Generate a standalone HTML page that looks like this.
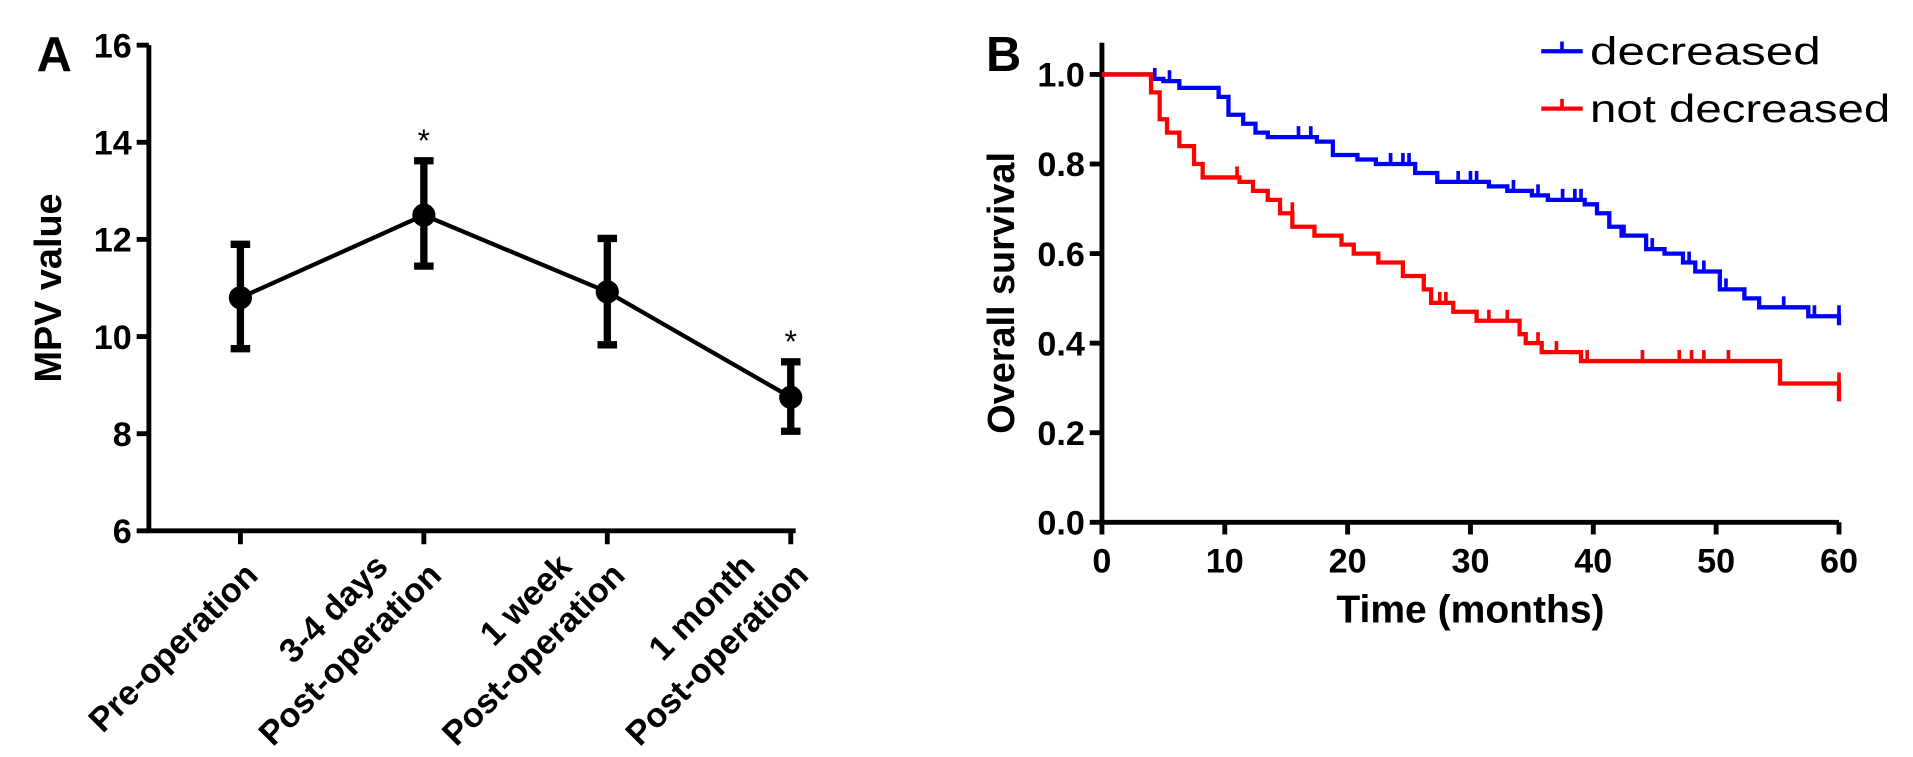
<!DOCTYPE html>
<html><head><meta charset="utf-8"><style>
html,body{margin:0;padding:0;background:#fff;}
svg{display:block;font-family:"Liberation Sans",Arial,sans-serif;}
</style></head><body>
<svg id="fig" width="1913" height="757" viewBox="0 0 1913 757" xmlns="http://www.w3.org/2000/svg">
<rect width="1913" height="757" fill="#fff"/>
<g transform="scale(1.2203)">
<g id="panelA"></g>
<g id="panelB"></g>
</g>
</svg>
<script>
// Panel A data
const aCategories = [["Pre-operation"],["3-4 days","Post-operation"],["1 week","Post-operation"],["1 month","Post-operation"]];
const aMeans = [10.8, 12.5, 10.92, 8.75];
const aLow = [9.75, 11.45, 9.83, 8.05];
const aHigh = [11.9, 13.62, 12.02, 9.48];
const aStar = [false, true, false, true];
const aYTicks = [6, 8, 10, 12, 14, 16];

// Panel B data
const bXTicks = [0, 10, 20, 30, 40, 50, 60];
const bYTicks = [0.0, 0.2, 0.4, 0.6, 0.8, 1.0];
const blueTimes = [0, 4, 5, 6.3, 9.5, 10.3, 11.5, 12.5, 13.5, 17.5, 18.8, 20.8, 22.3, 25.5, 27.3, 31.5, 33, 35, 36.3, 39.3, 40.3, 41.3, 42.3, 44.3, 45.8, 47.3, 48.3, 50.3, 52.3, 53.5, 57.5, 60];
const blueSurv = [1.0, 0.99, 0.985, 0.97, 0.95, 0.91, 0.89, 0.87, 0.86, 0.85, 0.82, 0.81, 0.80, 0.78, 0.76, 0.75, 0.74, 0.73, 0.72, 0.71, 0.69, 0.66, 0.64, 0.61, 0.60, 0.58, 0.56, 0.52, 0.50, 0.48, 0.46, 0.44];
const blueCensor = [4.3, 5.5, 16, 17, 23.5, 24.5, 25, 29, 30, 30.5, 33.5, 35.5, 37.5, 38.5, 39, 42.5, 44.8, 47.8, 49, 50.8, 55.5, 58, 60];
const redTimes = [0, 4, 4.7, 5.3, 6.3, 7.5, 8.2, 9.2, 11.2, 12.3, 13.5, 14.5, 15.5, 17.3, 19.5, 20.5, 22.5, 24.5, 26.2, 26.8, 28.6, 30.5, 34, 34.5, 35.8, 39, 55.2, 60];
const redSurv = [1.0, 0.96, 0.90, 0.87, 0.84, 0.80, 0.77, 0.77, 0.76, 0.74, 0.72, 0.69, 0.66, 0.64, 0.62, 0.60, 0.58, 0.55, 0.52, 0.49, 0.47, 0.45, 0.42, 0.40, 0.38, 0.36, 0.31, 0.27];
const redCensor = [11, 15.5, 27.5, 28, 31.5, 33, 35.5, 37, 39.5, 44, 47, 48, 49, 51, 60];

const NS = "http://www.w3.org/2000/svg";
function mk(parent, tag, attrs, text) {
  const e = document.createElementNS(NS, tag);
  for (const k in attrs) e.setAttribute(k, attrs[k]);
  if (text !== undefined) e.textContent = text;
  parent.appendChild(e);
  return e;
}

// ---------- Panel A ----------
const A = document.getElementById("panelA");
const axL = 122, axB = 435, axT = 37;
const ya = v => axB - (v - 6) / (16 - 6) * (axB - axT);
const xaFirst = 197, xaLast = 648;
const xa = i => xaFirst + i * (xaLast - xaFirst) / 3;

let t = mk(A, "text", {x: 30, y: 58, "font-size": 40, "font-weight": "bold"}, "A");



let ax = mk(A, "path", {d: `M${axL},${axT} V${axB} H${xa(3)+4}`, stroke: "#000", "stroke-width": 4, fill: "none"});



aYTicks.forEach(v => {
  const y = ya(v);
  const tk = mk(A, "line", {x1: axL - 10, x2: axL, y1: y, y2: y, stroke: "#000", "stroke-width": 4});
  
  
  const lb = mk(A, "text", {x: axL - 14, y: y + 10, "font-size": 28, "font-weight": "bold", "text-anchor": "end"}, v);
  
  
});

let yt = mk(A, "text", {x: 0, y: 0, "font-size": 31, "font-weight": "bold", "text-anchor": "middle", transform: `translate(50,236) rotate(-90)`}, "MPV value");



aCategories.forEach((lines, i) => {
  const x = xa(i);
  const tk = mk(A, "line", {x1: x, x2: x, y1: axB, y2: axB + 11, stroke: "#000", "stroke-width": 4});
  
  
  const g = mk(A, "text", {"font-size": 28, "font-weight": "bold", "text-anchor": "end", transform: `translate(${x+6},${axB + 28}) rotate(-45)`});
  
  
  const n = lines.length;
  lines.forEach((s, j) => {
    const dy = (j - (n - 1)) * 36 + 14;
    mk(g, "tspan", {x: (j === n - 1 ? 0 : -26), y: dy}, s);
  });
});

let pts = aMeans.map((m, i) => `${xa(i)},${ya(m)}`).join(" ");
let pl = mk(A, "polyline", {points: pts, fill: "none", stroke: "#000", "stroke-width": 3.5});


aMeans.forEach((m, i) => {
  const x = xa(i);
  const eb = mk(A, "path", {d: `M${x},${ya(aLow[i])} V${ya(aHigh[i])} M${x-8},${ya(aLow[i])} H${x+8} M${x-8},${ya(aHigh[i])} H${x+8}`, stroke: "#000", "stroke-width": 6, fill: "none"});
  
  
  const c = mk(A, "circle", {cx: x, cy: ya(m), r: 9.5, fill: "#000"});
  
  
  if (aStar[i]) {
    const s = mk(A, "text", {x: x, y: ya(aHigh[i]) - 8, "font-size": 26, "text-anchor": "middle"}, "*");
    
    
  }
});

// ---------- Panel B ----------
const B = document.getElementById("panelB");
const bL = 903, bR = 1507, bT = 61, bB = 428;
const xb = v => bL + v / 60 * (bR - bL);
const yb = v => bB - v * (bB - bT);

t = mk(B, "text", {x: 808, y: 58, "font-size": 40, "font-weight": "bold"}, "B");



ax = mk(B, "path", {d: `M${bL},${bT - 26} V${bB} H${bR}`, stroke: "#000", "stroke-width": 4, fill: "none"});



bYTicks.forEach(v => {
  const y = yb(v);
  const tk = mk(B, "line", {x1: bL - 10, x2: bL, y1: y, y2: y, stroke: "#000", "stroke-width": 4});
  
  
  const lb = mk(B, "text", {x: bL - 14, y: y + 10, "font-size": 28, "font-weight": "bold", "text-anchor": "end"}, v.toFixed(1));
  
  
});
bXTicks.forEach(v => {
  const x = xb(v);
  const tk = mk(B, "line", {x1: x, x2: x, y1: bB, y2: bB + 10, stroke: "#000", "stroke-width": 4});
  
  
  const lb = mk(B, "text", {x: x, y: bB + 41, "font-size": 28, "font-weight": "bold", "text-anchor": "middle"}, v);
  
  
});
let xtB = mk(B, "text", {x: 1205, y: 510, "font-size": 32, "font-weight": "bold", "text-anchor": "middle"}, "Time (months)");


let ytB = mk(B, "text", {"font-size": 31, "font-weight": "bold", "text-anchor": "middle", transform: "translate(831,240) rotate(-90)"}, "Overall survival");



function survAt(times, surv, tt) {
  let s = surv[0];
  for (let i = 0; i < times.length; i++) if (times[i] <= tt) s = surv[i];
  return s;
}
function drawKM(times, surv, censor, color, name) {
  let d = `M${xb(times[0])},${yb(surv[0])}`;
  for (let i = 1; i < times.length; i++) {
    d += ` H${xb(times[i])} V${yb(surv[i])}`;
  }
  const p = mk(B, "path", {d: d, fill: "none", stroke: color, "stroke-width": 3.5});
  
  
  censor.forEach(c => {
    const y = yb(survAt(times, surv, c - 0.01));
    const l = mk(B, "line", {x1: xb(c), x2: xb(c), y1: y, y2: y - 9, stroke: color, "stroke-width": 3});
    
    
  });
}
drawKM(blueTimes, blueSurv, blueCensor, "#0000ff", "decreased");
drawKM(redTimes, redSurv, redCensor, "#ff0000", "not-decreased");

// legend
[["decreased", "#0000ff", 42, 189], ["not decreased", "#ff0000", 89, 246]].forEach(([lab, col, y, w]) => {
  const g = mk(B, "g", {});
  
  
  mk(g, "line", {x1: 1263, x2: 1297, y1: y, y2: y, stroke: col, "stroke-width": 3.5});
  mk(g, "line", {x1: 1280, x2: 1280, y1: y, y2: y - 8, stroke: col, "stroke-width": 3});
  mk(g, "text", {x: 1303, y: y + 11, "font-size": 32, textLength: w, lengthAdjust: "spacingAndGlyphs"}, lab);
});
</script>
</body></html>
